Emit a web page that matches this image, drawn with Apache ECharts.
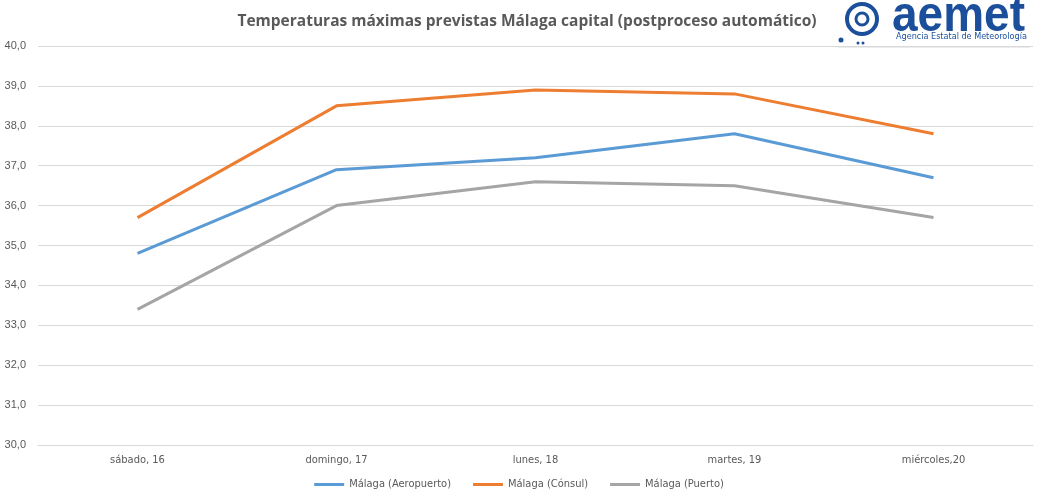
<!DOCTYPE html>
<html>
<head>
<meta charset="utf-8">
<script src="https://cdn.jsdelivr.net/npm/echarts@6/dist/echarts.min.js"></script>
<style>
  html, body { margin: 0; padding: 0; background: #fff; }
  #chart { width: 1038px; height: 497px; }
</style>
</head>
<body>
<div id="chart"></div>
<script>
var days = ['sábado, 16', 'domingo, 17', 'lunes, 18', 'martes, 19', 'miércoles,20'];
var aeropuerto = [34.8, 36.9, 37.2, 37.8, 36.7];
var consul = [35.7, 38.5, 38.9, 38.8, 37.8];
var puerto = [33.4, 36.0, 36.6, 36.5, 35.7];
var seriesNames = ['Málaga (Aeropuerto)', 'Málaga (Cónsul)', 'Málaga (Puerto)'];
var colors = ['#5B9BD5', '#ED7D31', '#A5A5A5'];

var narrow = '"DejaVu Sans Condensed", "Liberation Sans", sans-serif';
var chart = echarts.init(document.getElementById('chart'));

function line(name, data, color) {
  return {
    name: name,
    type: 'line',
    data: data,
    symbol: 'none',
    lineStyle: { width: 3, color: color },
    itemStyle: { color: color }
  };
}

chart.setOption({
  animation: false,
  title: {
    text: 'Temperaturas máximas previstas Málaga capital (postproceso automático)',
    left: 522,
    textAlign: 'center',
    top: 9,
    textStyle: { fontFamily: 'Open Sans', fontSize: 15.5, fontWeight: 'bold', color: '#595959' }
  },
  legend: {
    bottom: 2,
    left: 'center',
    itemWidth: 30,
    itemHeight: 3,
    itemGap: 22,
    icon: 'rect',
    textStyle: { fontFamily: narrow, fontSize: 11, color: '#595959' },
    data: seriesNames
  },
  grid: { left: 38, right: 5, top: 46, bottom: 52, containLabel: false },
  xAxis: {
    type: 'category',
    data: days,
    boundaryGap: true,
    axisLine: { lineStyle: { color: '#D9D9D9' } },
    axisTick: { show: false },
    axisLabel: { fontFamily: narrow, fontSize: 11, color: '#595959', margin: 10 }
  },
  yAxis: {
    type: 'value',
    min: 30,
    max: 40,
    interval: 1,
    axisLine: { show: false },
    axisTick: { show: false },
    splitLine: { lineStyle: { color: '#D9D9D9' } },
    axisLabel: {
      fontFamily: 'Liberation Sans', fontSize: 11, color: '#595959', margin: 12,
      formatter: function (v) { return v.toFixed(1).replace('.', ','); }
    }
  },
  graphic: [
    { type: 'circle', shape: { cx: 862, cy: 19, r: 15 }, style: { fill: 'none', stroke: '#1B4F9C', lineWidth: 4 } },
    { type: 'circle', shape: { cx: 862, cy: 19, r: 6 }, style: { fill: 'none', stroke: '#1B4F9C', lineWidth: 3 } },
    { type: 'circle', shape: { cx: 841, cy: 40, r: 2.5 }, style: { fill: '#1B4F9C' } },
    { type: 'circle', shape: { cx: 858, cy: 43, r: 1.5 }, style: { fill: '#1B4F9C' } },
    { type: 'circle', shape: { cx: 863, cy: 43, r: 1.5 }, style: { fill: '#1B4F9C' } },
    { type: 'text', x: 892, y: -8, scaleY: 1.1, style: { text: 'aemet', font: 'bold 46px "Liberation Sans"', fill: '#1B4F9C' } },
    { type: 'text', left: 896, top: 32, style: { text: 'Agencia Estatal de Meteorología', font: '9px ' + narrow, fill: '#1B4F9C' } },
    { type: 'line', shape: { x1: 838, y1: 47, x2: 1030, y2: 47 }, style: { stroke: '#D9D9D9', lineWidth: 1 } }
  ],
  series: [
    line(seriesNames[0], aeropuerto, colors[0]),
    line(seriesNames[1], consul, colors[1]),
    line(seriesNames[2], puerto, colors[2])
  ]
});
</script>
</body>
</html>
